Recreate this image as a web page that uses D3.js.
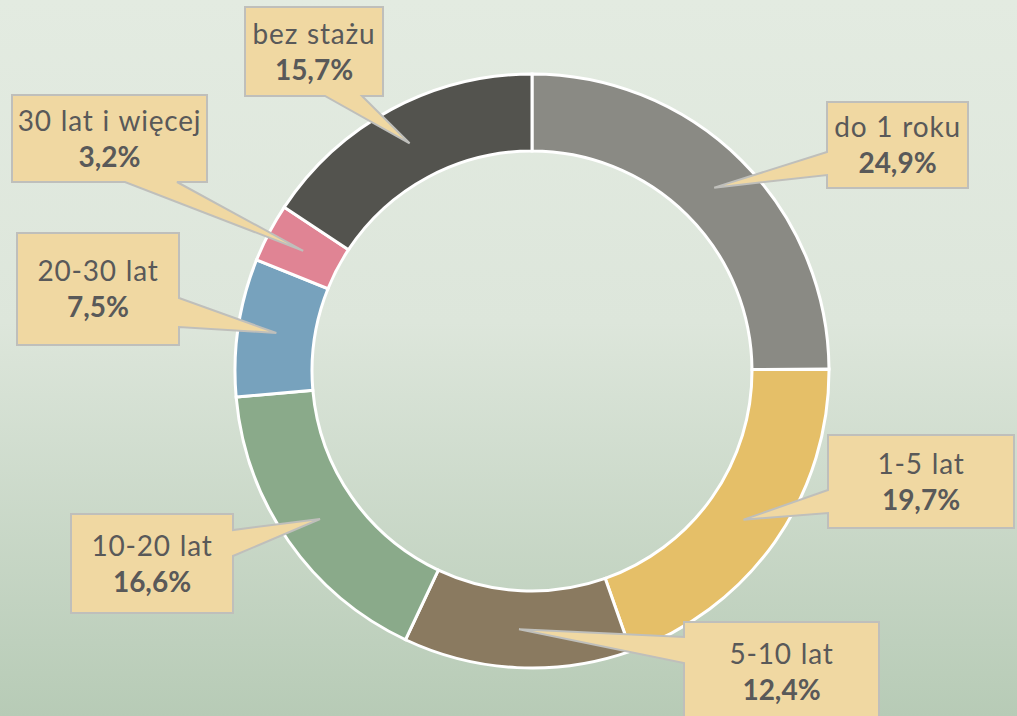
<!DOCTYPE html>
<html>
<head>
<meta charset="utf-8">
<script src="https://cdn.jsdelivr.net/npm/d3@7"></script>
<style>
  body { margin: 0; overflow: hidden; }
</style>
</head>
<body>
<div id="chart"></div>
<script>
// data
var categories = ["do 1 roku", "1-5 lat", "5-10 lat", "10-20 lat", "20-30 lat", "30 lat i więcej", "bez stażu"];
var values = [24.9, 19.7, 12.4, 16.6, 7.5, 3.2, 15.7];
var colors = ["#8a8a84", "#e5bf68", "#8a7a60", "#8aaa8a", "#77a2bd", "#e08494", "#53534e"];

// callout boxes: x, y, w, h, side of the pointer, pointer base from/to
var callouts = [
  {x: 827, y: 102, w: 141, h: 86,  side: "left",   a: 152, b: 175},
  {x: 828, y: 435, w: 186, h: 93,  side: "left",   a: 490, b: 513},
  {x: 684, y: 622, w: 195, h: 100, side: "left",   a: 637, b: 663},
  {x: 71,  y: 514, w: 162, h: 99,  side: "right",  a: 530, b: 556},
  {x: 17,  y: 233, w: 162, h: 112, side: "right",  a: 298, b: 327},
  {x: 12,  y: 95,  w: 195, h: 87,  side: "bottom", a: 125, b: 177},
  {x: 245, y: 7,   w: 138, h: 89,  side: "bottom", a: 325, b: 362}
];

var width = 1017, height = 716;
var cx = 532, cy = 371, outerR = 297, innerR = 220;

var svg = d3.select("#chart")
  .append("svg")
    .attr("width", width)
    .attr("height", height);

// background gradient
var grad = svg.append("defs").append("linearGradient")
  .attr("id", "bg")
  .attr("x1", 0).attr("y1", 0).attr("x2", 0).attr("y2", 1);
grad.append("stop").attr("offset", "0%").attr("stop-color", "#e3ebe1");
grad.append("stop").attr("offset", "45%").attr("stop-color", "#dde6db");
grad.append("stop").attr("offset", "100%").attr("stop-color", "#b7cbb6");

svg.append("rect")
  .attr("width", width)
  .attr("height", height)
  .attr("fill", "url(#bg)");

var data = categories.map(function(c, i) {
  return {name: c, value: values[i], color: colors[i], box: callouts[i]};
});

var pie = d3.pie()
  .value(function(d) { return d.value; })
  .sort(null);

var arc = d3.arc()
  .innerRadius(innerR)
  .outerRadius(outerR);

var g = svg.append("g")
  .attr("transform", "translate(" + cx + "," + cy + ")");

var arcs = pie(data);

g.selectAll("path.slice")
  .data(arcs)
  .join("path")
    .attr("class", "slice")
    .attr("d", arc)
    .attr("fill", function(d) { return d.data.color; })
    .attr("stroke", "#ffffff")
    .attr("stroke-width", 3);

// callout shape = box with a pointer to the arc centroid
function calloutPath(d) {
  var b = d.data.box;
  var c = arc.centroid(d);
  var tx = c[0] + cx, ty = c[1] + cy;
  var x0 = b.x, y0 = b.y, x1 = b.x + b.w, y1 = b.y + b.h;
  var p = d3.path();
  p.moveTo(x0, y0);
  p.lineTo(x1, y0);
  if (b.side === "right") {
    p.lineTo(x1, b.a); p.lineTo(tx, ty); p.lineTo(x1, b.b);
  }
  p.lineTo(x1, y1);
  if (b.side === "bottom") {
    p.lineTo(b.b, y1); p.lineTo(tx, ty); p.lineTo(b.a, y1);
  }
  p.lineTo(x0, y1);
  if (b.side === "left") {
    p.lineTo(x0, b.b); p.lineTo(tx, ty); p.lineTo(x0, b.a);
  }
  p.closePath();
  return p.toString();
}

var labels = svg.selectAll("g.callout")
  .data(arcs)
  .join("g")
    .attr("class", "callout");

labels.append("path")
  .attr("d", calloutPath)
  .attr("fill", "#f0d8a2")
  .attr("stroke", "#bfbfbb")
  .attr("stroke-width", 2)
  .attr("stroke-linejoin", "miter");

labels.append("text")
  .attr("x", function(d) { return d.data.box.x + d.data.box.w / 2; })
  .attr("y", function(d) { return d.data.box.y + d.data.box.h / 2 - 8; })
  .attr("text-anchor", "middle")
  .style("font-family", "Lato, 'Open Sans', sans-serif")
  .style("font-size", "28px")
  .style("letter-spacing", "0.8px")
  .style("word-spacing", "1px")
  .attr("fill", "#595959")
  .text(function(d) { return d.data.name; });

labels.append("text")
  .attr("x", function(d) { return d.data.box.x + d.data.box.w / 2; })
  .attr("y", function(d) { return d.data.box.y + d.data.box.h / 2 + 28; })
  .attr("text-anchor", "middle")
  .style("font-family", "Lato, 'Open Sans', sans-serif")
  .style("font-size", "28px")
  .style("font-weight", "bold")
  .attr("fill", "#595959")
  .text(function(d) { return d3.format(".1f")(d.data.value).replace(".", ",") + "%"; });
</script>
</body>
</html>
